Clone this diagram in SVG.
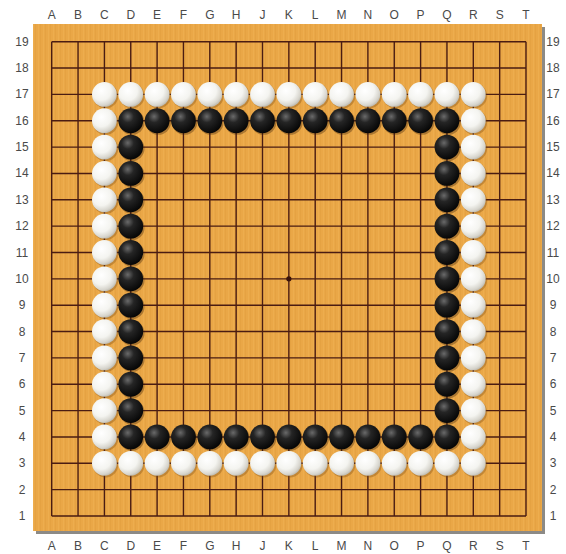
<svg xmlns="http://www.w3.org/2000/svg" xmlns:xlink="http://www.w3.org/1999/xlink" width="566" height="554" viewBox="0 0 566 554">
<defs>
<style>
.lbl{font-family:"Liberation Sans","DejaVu Sans",sans-serif;font-size:12px;fill:#4a4a4a;text-anchor:middle;dominant-baseline:central}
.grid{stroke:#4a1c12;stroke-width:1.4;fill:none}
</style>
<pattern id="wood" width="5" height="20" patternUnits="userSpaceOnUse">
<rect width="5" height="20" fill="#eaa747"/>
<rect x="0" width="1" height="20" fill="#dd9838" opacity="0.35"/>
<rect x="3" width="1" height="20" fill="#f4b75c" opacity="0.35"/>
</pattern>
<radialGradient id="gw" cx="0.38" cy="0.35" r="0.7">
<stop offset="0" stop-color="#ffffff"/>
<stop offset="0.55" stop-color="#f4f4f0"/>
<stop offset="0.85" stop-color="#d6d4cc"/>
<stop offset="1" stop-color="#b8b4a8"/>
</radialGradient>
<radialGradient id="gb" cx="0.38" cy="0.33" r="0.7">
<stop offset="0" stop-color="#6a6a6a"/>
<stop offset="0.35" stop-color="#252525"/>
<stop offset="1" stop-color="#050505"/>
</radialGradient>
<g id="w"><circle cx="1.2" cy="1.5" r="12.6" fill="#7a4a10" opacity="0.35"/><circle r="12.4" fill="url(#gw)"/></g>
<g id="b"><circle cx="1.2" cy="1.5" r="12.6" fill="#3a2008" opacity="0.35"/><circle r="12.4" fill="url(#gb)"/></g>
</defs>
<rect width="566" height="554" fill="#ffffff"/>
<rect x="36" y="27" width="509" height="507" fill="#8c8a86"/>
<rect x="33" y="24" width="509" height="507" fill="url(#wood)"/>
<path class="grid" d="M51.7 41.7V516M78.05 41.7V516M104.4 41.7V516M130.75 41.7V516M157.1 41.7V516M183.45 41.7V516M209.8 41.7V516M236.15 41.7V516M262.5 41.7V516M288.85 41.7V516M315.2 41.7V516M341.55 41.7V516M367.9 41.7V516M394.25 41.7V516M420.6 41.7V516M446.95 41.7V516M473.3 41.7V516M499.65 41.7V516M526 41.7V516M51.7 41.7H526M51.7 68.05H526M51.7 94.4H526M51.7 120.75H526M51.7 147.1H526M51.7 173.45H526M51.7 199.8H526M51.7 226.15H526M51.7 252.5H526M51.7 278.85H526M51.7 305.2H526M51.7 331.55H526M51.7 357.9H526M51.7 384.25H526M51.7 410.6H526M51.7 436.95H526M51.7 463.3H526M51.7 489.65H526M51.7 516H526"/>
<circle cx="288.85" cy="278.85" r="2.6" fill="#3a120a"/>
<g id="labels-top">
<text class="lbl" x="51.7" y="15">A</text><text class="lbl" x="78.05" y="15">B</text><text class="lbl" x="104.4" y="15">C</text><text class="lbl" x="130.75" y="15">D</text><text class="lbl" x="157.1" y="15">E</text><text class="lbl" x="183.45" y="15">F</text><text class="lbl" x="209.8" y="15">G</text><text class="lbl" x="236.15" y="15">H</text><text class="lbl" x="262.5" y="15">J</text><text class="lbl" x="288.85" y="15">K</text><text class="lbl" x="315.2" y="15">L</text><text class="lbl" x="341.55" y="15">M</text><text class="lbl" x="367.9" y="15">N</text><text class="lbl" x="394.25" y="15">O</text><text class="lbl" x="420.6" y="15">P</text><text class="lbl" x="446.95" y="15">Q</text><text class="lbl" x="473.3" y="15">R</text><text class="lbl" x="499.65" y="15">S</text><text class="lbl" x="526" y="15">T</text>
</g>
<g id="labels-bottom">
<text class="lbl" x="51.7" y="546">A</text><text class="lbl" x="78.05" y="546">B</text><text class="lbl" x="104.4" y="546">C</text><text class="lbl" x="130.75" y="546">D</text><text class="lbl" x="157.1" y="546">E</text><text class="lbl" x="183.45" y="546">F</text><text class="lbl" x="209.8" y="546">G</text><text class="lbl" x="236.15" y="546">H</text><text class="lbl" x="262.5" y="546">J</text><text class="lbl" x="288.85" y="546">K</text><text class="lbl" x="315.2" y="546">L</text><text class="lbl" x="341.55" y="546">M</text><text class="lbl" x="367.9" y="546">N</text><text class="lbl" x="394.25" y="546">O</text><text class="lbl" x="420.6" y="546">P</text><text class="lbl" x="446.95" y="546">Q</text><text class="lbl" x="473.3" y="546">R</text><text class="lbl" x="499.65" y="546">S</text><text class="lbl" x="526" y="546">T</text>
</g>
<g id="labels-left">
<text class="lbl" x="22" y="41.7">19</text><text class="lbl" x="22" y="68.05">18</text><text class="lbl" x="22" y="94.4">17</text><text class="lbl" x="22" y="120.75">16</text><text class="lbl" x="22" y="147.1">15</text><text class="lbl" x="22" y="173.45">14</text><text class="lbl" x="22" y="199.8">13</text><text class="lbl" x="22" y="226.15">12</text><text class="lbl" x="22" y="252.5">11</text><text class="lbl" x="22" y="278.85">10</text><text class="lbl" x="22" y="305.2">9</text><text class="lbl" x="22" y="331.55">8</text><text class="lbl" x="22" y="357.9">7</text><text class="lbl" x="22" y="384.25">6</text><text class="lbl" x="22" y="410.6">5</text><text class="lbl" x="22" y="436.95">4</text><text class="lbl" x="22" y="463.3">3</text><text class="lbl" x="22" y="489.65">2</text><text class="lbl" x="22" y="516">1</text>
</g>
<g id="labels-right">
<text class="lbl" x="553" y="41.7">19</text><text class="lbl" x="553" y="68.05">18</text><text class="lbl" x="553" y="94.4">17</text><text class="lbl" x="553" y="120.75">16</text><text class="lbl" x="553" y="147.1">15</text><text class="lbl" x="553" y="173.45">14</text><text class="lbl" x="553" y="199.8">13</text><text class="lbl" x="553" y="226.15">12</text><text class="lbl" x="553" y="252.5">11</text><text class="lbl" x="553" y="278.85">10</text><text class="lbl" x="553" y="305.2">9</text><text class="lbl" x="553" y="331.55">8</text><text class="lbl" x="553" y="357.9">7</text><text class="lbl" x="553" y="384.25">6</text><text class="lbl" x="553" y="410.6">5</text><text class="lbl" x="553" y="436.95">4</text><text class="lbl" x="553" y="463.3">3</text><text class="lbl" x="553" y="489.65">2</text><text class="lbl" x="553" y="516">1</text>
</g>
<g id="white-stones">
<use href="#w" x="104.4" y="94.4"/><use href="#w" x="130.75" y="94.4"/><use href="#w" x="157.1" y="94.4"/><use href="#w" x="183.45" y="94.4"/><use href="#w" x="209.8" y="94.4"/><use href="#w" x="236.15" y="94.4"/><use href="#w" x="262.5" y="94.4"/><use href="#w" x="288.85" y="94.4"/><use href="#w" x="315.2" y="94.4"/><use href="#w" x="341.55" y="94.4"/><use href="#w" x="367.9" y="94.4"/><use href="#w" x="394.25" y="94.4"/><use href="#w" x="420.6" y="94.4"/><use href="#w" x="446.95" y="94.4"/><use href="#w" x="473.3" y="94.4"/>
<use href="#w" x="104.4" y="120.75"/><use href="#w" x="104.4" y="147.1"/><use href="#w" x="104.4" y="173.45"/><use href="#w" x="104.4" y="199.8"/><use href="#w" x="104.4" y="226.15"/><use href="#w" x="104.4" y="252.5"/><use href="#w" x="104.4" y="278.85"/><use href="#w" x="104.4" y="305.2"/><use href="#w" x="104.4" y="331.55"/><use href="#w" x="104.4" y="357.9"/><use href="#w" x="104.4" y="384.25"/><use href="#w" x="104.4" y="410.6"/><use href="#w" x="104.4" y="436.95"/>
<use href="#w" x="473.3" y="120.75"/><use href="#w" x="473.3" y="147.1"/><use href="#w" x="473.3" y="173.45"/><use href="#w" x="473.3" y="199.8"/><use href="#w" x="473.3" y="226.15"/><use href="#w" x="473.3" y="252.5"/><use href="#w" x="473.3" y="278.85"/><use href="#w" x="473.3" y="305.2"/><use href="#w" x="473.3" y="331.55"/><use href="#w" x="473.3" y="357.9"/><use href="#w" x="473.3" y="384.25"/><use href="#w" x="473.3" y="410.6"/><use href="#w" x="473.3" y="436.95"/>
<use href="#w" x="104.4" y="463.3"/><use href="#w" x="130.75" y="463.3"/><use href="#w" x="157.1" y="463.3"/><use href="#w" x="183.45" y="463.3"/><use href="#w" x="209.8" y="463.3"/><use href="#w" x="236.15" y="463.3"/><use href="#w" x="262.5" y="463.3"/><use href="#w" x="288.85" y="463.3"/><use href="#w" x="315.2" y="463.3"/><use href="#w" x="341.55" y="463.3"/><use href="#w" x="367.9" y="463.3"/><use href="#w" x="394.25" y="463.3"/><use href="#w" x="420.6" y="463.3"/><use href="#w" x="446.95" y="463.3"/><use href="#w" x="473.3" y="463.3"/>
</g>
<g id="black-stones">
<use href="#b" x="130.75" y="120.75"/><use href="#b" x="157.1" y="120.75"/><use href="#b" x="183.45" y="120.75"/><use href="#b" x="209.8" y="120.75"/><use href="#b" x="236.15" y="120.75"/><use href="#b" x="262.5" y="120.75"/><use href="#b" x="288.85" y="120.75"/><use href="#b" x="315.2" y="120.75"/><use href="#b" x="341.55" y="120.75"/><use href="#b" x="367.9" y="120.75"/><use href="#b" x="394.25" y="120.75"/><use href="#b" x="420.6" y="120.75"/><use href="#b" x="446.95" y="120.75"/>
<use href="#b" x="130.75" y="147.1"/><use href="#b" x="130.75" y="173.45"/><use href="#b" x="130.75" y="199.8"/><use href="#b" x="130.75" y="226.15"/><use href="#b" x="130.75" y="252.5"/><use href="#b" x="130.75" y="278.85"/><use href="#b" x="130.75" y="305.2"/><use href="#b" x="130.75" y="331.55"/><use href="#b" x="130.75" y="357.9"/><use href="#b" x="130.75" y="384.25"/><use href="#b" x="130.75" y="410.6"/>
<use href="#b" x="446.95" y="147.1"/><use href="#b" x="446.95" y="173.45"/><use href="#b" x="446.95" y="199.8"/><use href="#b" x="446.95" y="226.15"/><use href="#b" x="446.95" y="252.5"/><use href="#b" x="446.95" y="278.85"/><use href="#b" x="446.95" y="305.2"/><use href="#b" x="446.95" y="331.55"/><use href="#b" x="446.95" y="357.9"/><use href="#b" x="446.95" y="384.25"/><use href="#b" x="446.95" y="410.6"/>
<use href="#b" x="130.75" y="436.95"/><use href="#b" x="157.1" y="436.95"/><use href="#b" x="183.45" y="436.95"/><use href="#b" x="209.8" y="436.95"/><use href="#b" x="236.15" y="436.95"/><use href="#b" x="262.5" y="436.95"/><use href="#b" x="288.85" y="436.95"/><use href="#b" x="315.2" y="436.95"/><use href="#b" x="341.55" y="436.95"/><use href="#b" x="367.9" y="436.95"/><use href="#b" x="394.25" y="436.95"/><use href="#b" x="420.6" y="436.95"/><use href="#b" x="446.95" y="436.95"/>
</g>
</svg>
